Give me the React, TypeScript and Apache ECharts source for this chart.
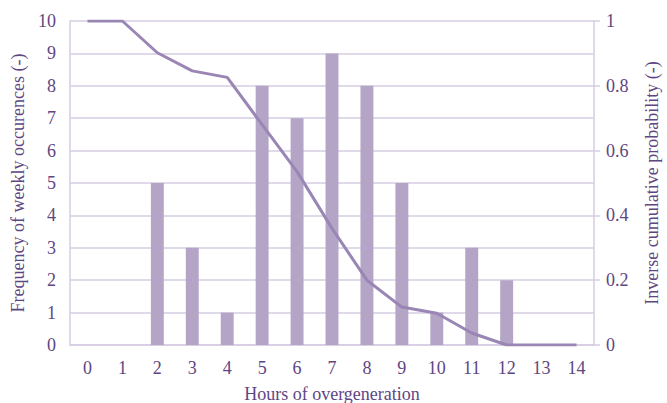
import React, { useEffect, useRef } from "react";
import * as echarts from "echarts";

const hours = ["0","1","2","3","4","5","6","7","8","9","10","11","12","13","14"];
const frequency = [0, 0, 5, 3, 1, 8, 7, 9, 8, 5, 1, 3, 2, 0, 0];
const inverseCumulative = [1, 1, 0.902, 0.846, 0.826, 0.68, 0.535, 0.36, 0.2, 0.117, 0.098, 0.037, 0, 0, 0];

const textColor = "#5e4683";
const gridColor = "#d6cce2";
const font = "Liberation Serif";

export default function App() {
  const ref = useRef<HTMLDivElement>(null);
  useEffect(() => {
    const chart = echarts.init(ref.current!, null, { renderer: "svg" });
    chart.setOption({
      animation: false,
      textStyle: { fontFamily: font, color: textColor },
      grid: { left: 70, right: 73, top: 21, bottom: 58, outerBoundsMode: "none", containLabel: false },
      xAxis: {
        type: "category",
        data: hours,
        name: "Hours of overgeneration",
        nameLocation: "middle",
        nameGap: 40,
        nameTextStyle: { fontFamily: font, color: textColor, fontSize: 18 },
        axisLine: { lineStyle: { color: gridColor, width: 1.5 } },
        axisTick: { show: false },
        axisLabel: { fontFamily: font, color: textColor, fontSize: 18, margin: 14 },
      },
      yAxis: [
        {
          type: "value",
          min: 0,
          max: 10,
          interval: 1,
          name: "Frequency of weekly occurences (-)",
          nameLocation: "middle",
          nameGap: 40,
          nameTextStyle: { fontFamily: font, color: textColor, fontSize: 18 },
          axisLine: { show: true, lineStyle: { color: gridColor, width: 1.5 } },
          axisTick: { show: false },
          axisLabel: { fontFamily: font, color: textColor, fontSize: 18, margin: 14 },
          splitLine: { lineStyle: { color: gridColor, width: 1.5 } },
        },
        {
          type: "value",
          min: 0,
          max: 1,
          interval: 0.2,
          position: "right",
          name: "Inverse cumulative probability (-)",
          nameLocation: "middle",
          nameGap: 49,
          nameRotate: 90,
          nameTextStyle: { fontFamily: font, color: textColor, fontSize: 18 },
          axisLine: { show: true, lineStyle: { color: gridColor, width: 1.5 } },
          axisTick: { show: true, length: 6, lineStyle: { color: gridColor, width: 1.5 } },
          axisLabel: { fontFamily: font, color: textColor, fontSize: 18, margin: 12 },
          splitLine: { show: false },
        },
      ],
      series: [
        {
          type: "bar",
          data: frequency,
          yAxisIndex: 0,
          barWidth: "37%",
          itemStyle: { color: "#b4a4c6" },
        },
        {
          type: "line",
          data: inverseCumulative,
          yAxisIndex: 1,
          symbol: "none",
          lineStyle: { color: "#9a86b4", width: 3 },
        },
      ],
    });
    return () => chart.dispose();
  }, []);
  return <div ref={ref} style={{ width: 667, height: 403, position: "fixed", left: 0, top: 0, background: "#fff" }} />;
}
